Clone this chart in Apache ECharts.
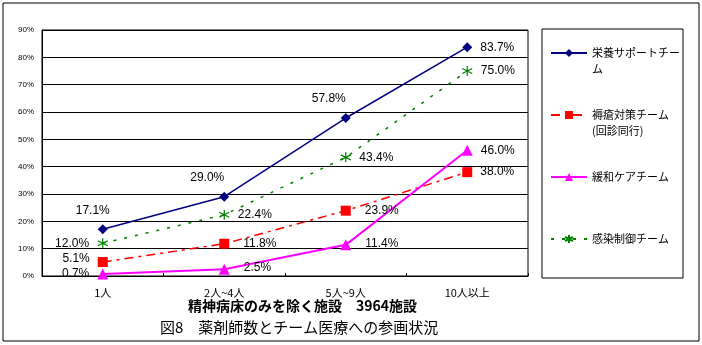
<!DOCTYPE html>
<html><head><meta charset="utf-8">
<script src="https://cdn.jsdelivr.net/npm/echarts@6/dist/echarts.min.js"></script>
<style>html,body{margin:0;padding:0;background:#fff}#c{width:702px;height:345px}</style>
</head><body><div id="c"></div>
<script>
var categories = ['1人', '2人~4人', '5人~9人', '10人以上'];
var yTicks = ['0%','10%','20%','30%','40%','50%','60%','70%','80%','90%'];
var nutrition = [17.1, 29.0, 57.8, 83.7];
var pressure = [5.1, 11.8, 23.9, 38.0];
var palliative = [0.7, 2.5, 11.4, 46.0];
var infection = [12.0, 22.4, 43.4, 75.0];
var seriesNames = ['栄養サポートチー\nム', '褥瘡対策チーム\n(回診同行)', '緩和ケアチーム', '感染制御チーム'];
var xName = '精神病床のみを除く施設　3964施設';
var caption = '図8　薬剤師数とチーム医療への参画状況';

var numFont = 'Liberation Sans, Noto Sans CJK JP, sans-serif';
var cjkFont = 'Noto Sans CJK JP, sans-serif';
var asterisk = 'path://M5,0L5,10M0.7,2.5L9.3,7.5M0.7,7.5L9.3,2.5';

function mkData(vals, firstPos, otherPos, firstOffset, otherOffset) {
  return vals.map(function (v, i) {
    var pos = i === 0 ? firstPos : (i === vals.length - 1 ? 'right' : otherPos);
    var off = i === 0 ? firstOffset : (i === vals.length - 1 ? [0, 0] : otherOffset);
    return { value: v, label: { position: pos, offset: off } };
  });
}
var labelBase = {
  show: true, color: '#000', fontSize: 12, fontFamily: numFont, distance: 8,
  formatter: function (p) { return p.value.toFixed(1) + '%'; }
};
function lbl(extra) { return Object.assign({}, labelBase, extra || {}); }

var chart = echarts.init(document.getElementById('c'), null, { renderer: 'canvas' });
chart.setOption({
  animation: false,
  backgroundColor: '#fff',
  grid: { left: 42, top: 30, right: 174, bottom: 69, show: true, borderColor: '#000', borderWidth: 1 },
  title: [
    { text: xName, left: 188, top: 299, padding: 0,
      textStyle: { fontSize: 14, fontWeight: 'bold', fontFamily: cjkFont, color: '#000' } },
    { text: caption, left: 160, top: 320, padding: 0,
      textStyle: { fontSize: 15, fontWeight: 'normal', fontFamily: cjkFont, color: '#000' } }
  ],
  graphic: [
    { type: 'rect', shape: { x: 3, y: 3, width: 696, height: 338 }, style: { fill: 'none', stroke: '#000', lineWidth: 1 }, silent: true },
    { type: 'rect', shape: { x: 542, y: 29, width: 141, height: 249 }, style: { fill: 'none', stroke: '#000', lineWidth: 1 }, silent: true }
  ],
  legend: {
    orient: 'vertical', left: 550, top: 29, padding: 0,
    itemWidth: 36, itemHeight: 10, itemGap: 14,
    data: seriesNames,
    formatter: function (n) { return n.indexOf('\n') >= 0 ? '\n' + n : '\n' + n + '\n'; },
    textStyle: { fontSize: 11, lineHeight: 16, fontFamily: cjkFont, color: '#000' }
  },
  xAxis: {
    type: 'category', data: categories, boundaryGap: true,
    axisLine: { show: true, lineStyle: { color: '#000', width: 1 } },
    axisTick: { show: true, inside: true, length: 3, lineStyle: { color: '#000' } },
    axisLabel: { fontSize: 11, color: '#000', margin: 11, fontFamily: cjkFont },
    splitLine: { show: false }
  },
  yAxis: {
    type: 'value', min: 0, max: 90, interval: 10,
    axisLine: { show: true, lineStyle: { color: '#000' } },
    axisTick: { show: false },
    axisLabel: { fontSize: 8, color: '#000', margin: 8, fontFamily: numFont,
      formatter: function (v) { return yTicks[Math.round(v / 10)]; } },
    splitLine: { show: true, lineStyle: { color: '#000', width: 1 } }
  },
  series: [
    { name: seriesNames[0], type: 'line', data: mkData(nutrition, 'top', 'top', [-10, 0], [-17, 0]),
      symbol: 'diamond', symbolSize: 10, color: '#000080',
      lineStyle: { color: '#000080', width: 1.5, type: 'solid' },
      itemStyle: { color: '#000080' }, label: lbl(), z: 4 },
    { name: seriesNames[1], type: 'line', data: mkData(pressure, 'left', 'right', [0, -3], [6, 0]),
      symbol: 'rect', symbolSize: 10, color: '#ff0000',
      lineStyle: { color: '#ff0000', width: 1.5, type: [9, 5, 3, 5] },
      itemStyle: { color: '#ff0000' }, label: lbl(), z: 3 },
    { name: seriesNames[2], type: 'line', data: mkData(palliative, 'left', 'right', [0, 0], [6, -1]),
      symbol: 'triangle', symbolSize: 11, color: '#ff00ff',
      lineStyle: { color: '#ff00ff', width: 2, type: 'solid' },
      itemStyle: { color: '#ff00ff' }, label: lbl(), z: 3 },
    { name: seriesNames[3], type: 'line', data: mkData(infection, 'left', 'right', [0, 0], [0, 0]),
      symbol: asterisk, symbolSize: 10, color: '#008000',
      lineStyle: { color: '#008000', width: 1.5, type: [3, 8] },
      itemStyle: { color: '#008000', borderColor: '#008000', borderWidth: 1.2 }, label: lbl(), z: 3 }
  ]
});
</script></body></html>
